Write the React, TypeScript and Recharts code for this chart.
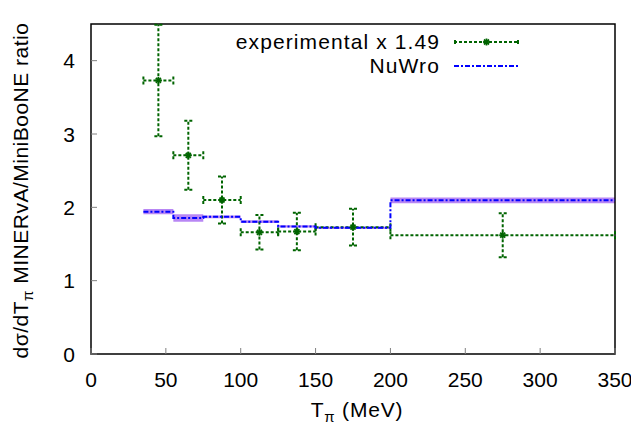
import React from 'react'
import {
  ComposedChart,
  XAxis,
  YAxis,
  Scatter,
  ErrorBar,
  Line,
  Area,
  ReferenceArea,
  Legend,
  Label,
} from 'recharts'

// bins in T_pi (MeV)
const binLow = [35, 55, 75, 100, 125, 150, 200]
const binHigh = [55, 75, 100, 125, 150, 200, 350]

// experimental ratio (already scaled x 1.49) and its error
const expRatio = [3.73, 2.71, 2.1, 1.66, 1.67, 1.73, 1.62]
const expError = [0.76, 0.47, 0.32, 0.235, 0.255, 0.25, 0.3]

// NuWro ratio and half-width of its band
const nuwroRatio = [1.94, 1.855, 1.87, 1.805, 1.74, 1.72, 2.095]
const nuwroSpread = [0.036, 0.05, 0.018, 0.018, 0.015, 0.015, 0.039]

const xTicks = [0, 50, 100, 150, 200, 250, 300, 350]
const yTicks = [0, 1, 2, 3, 4]

const GREEN = '#006400'
const BLUE = '#0000ff'
const BAND = '#ac72f2'
const TICK = '#808080'
const FONT = '"Liberation Sans", Arial, sans-serif'
const FS = 21

const expData = binLow.map((lo, i) => ({
  x: (lo + binHigh[i]) / 2,
  y: expRatio[i],
  xerr: (binHigh[i] - lo) / 2,
  yerr: expError[i],
}))

// step data: one point per bin edge, the last value repeated at the upper edge
const nuwroData = [...binLow, binHigh[binHigh.length - 1]].map((x, i) => {
  const k = Math.min(i, nuwroRatio.length - 1)
  return {
    x,
    ratio: nuwroRatio[k],
    band: [nuwroRatio[k] - nuwroSpread[k], nuwroRatio[k] + nuwroSpread[k]],
  }
})

const BottomTick = ({ x, y, payload }: any) => (
  <g>
    <line x1={x} x2={x} y1={y} y2={y - 6} stroke={TICK} strokeWidth={1} />
    <text x={x} y={y + 33} textAnchor="middle" fontSize={FS} fontFamily={FONT} fill="#000">
      {payload.value}
    </text>
  </g>
)

const TopTick = ({ x, y }: any) => (
  <line x1={x} x2={x} y1={y} y2={y + 6} stroke={TICK} strokeWidth={1} />
)

const LeftTick = ({ x, y, payload }: any) => (
  <g>
    <line x1={x} x2={x + 6} y1={y} y2={y} stroke={TICK} strokeWidth={1} />
    <text x={x - 16} y={y + 7.5} textAnchor="end" fontSize={FS} fontFamily={FONT} fill="#000">
      {payload.value}
    </text>
  </g>
)

const RightTick = ({ x, y }: any) => (
  <line x1={x} x2={x - 6} y1={y} y2={y} stroke={TICK} strokeWidth={1} />
)

const Star = ({ cx, cy }: any) => (
  <g stroke={GREEN} strokeWidth={1.8}>
    <line x1={cx - 3.5} x2={cx + 3.5} y1={cy} y2={cy} />
    <line x1={cx} x2={cx} y1={cy - 3.5} y2={cy + 3.5} />
    <line x1={cx - 2.5} x2={cx + 2.5} y1={cy - 2.5} y2={cy + 2.5} />
    <line x1={cx - 2.5} x2={cx + 2.5} y1={cy + 2.5} y2={cy - 2.5} />
  </g>
)

const XTitle = ({ viewBox }: any) => {
  const cx = viewBox.x + viewBox.width / 2 + 4
  return (
    <text
      x={cx}
      y={viewBox.y + 63}
      textAnchor="middle"
      fontSize={FS}
      fontFamily={FONT}
      letterSpacing={0.8}
      fill="#000"
    >
      T
      <tspan fontSize={15} dy={5}>π</tspan>
      <tspan dy={-5}> (MeV)</tspan>
    </text>
  )
}

const YTitle = () => (
  <text
    transform="rotate(-90)"
    x={-182.5}
    y={20}
    textAnchor="middle"
    fontSize={FS}
    fontFamily={FONT}
    letterSpacing={0.5}
    fill="#000"
  >
    dσ/dT
    <tspan fontSize={15} dy={5}>π</tspan>
    <tspan dy={-5}> MINERvA/MiniBooNE ratio</tspan>
  </text>
)

const renderLegend = () => (
  <div style={{ fontFamily: FONT, fontSize: FS, lineHeight: '24px', letterSpacing: 1.1 }}>
    <div style={{ display: 'flex', alignItems: 'center', height: 24 }}>
      <span style={{ width: 232, textAlign: 'right', whiteSpace: 'nowrap' }}>experimental x 1.49</span>
      <svg width={80} height={24} style={{ marginLeft: 14 }}>
        <line x1={0} x2={65} y1={12} y2={12} stroke={GREEN} strokeWidth={2} strokeDasharray="3 2" />
        <line x1={1} x2={1} y1={10} y2={14} stroke={GREEN} strokeWidth={2} />
        <line x1={64} x2={64} y1={10} y2={14} stroke={GREEN} strokeWidth={2} />
        <Star cx={32.5} cy={12} />
      </svg>
    </div>
    <div style={{ display: 'flex', alignItems: 'center', height: 24 }}>
      <span style={{ width: 232, textAlign: 'right' }}>NuWro</span>
      <svg width={80} height={24} style={{ marginLeft: 14 }}>
        <line x1={0} x2={65} y1={12} y2={12} stroke={BLUE} strokeWidth={2} strokeDasharray="5 2 2 2" />
      </svg>
    </div>
  </div>
)

export default function App() {
  return (
    <ComposedChart
      width={631}
      height={416}
      margin={{ top: 16, right: 24, left: 0, bottom: 0 }}
      style={{ background: '#fff' }}
    >
      <XAxis
        dataKey="x"
        type="number"
        domain={[0, 350]}
        ticks={xTicks}
        height={70}
        axisLine={false}
        tickLine={false}
        tickSize={0}
        tickMargin={0}
        tick={<BottomTick />}
        interval={0}
      >
        <Label content={<XTitle />} />
      </XAxis>
      <XAxis
        xAxisId="top"
        orientation="top"
        type="number"
        domain={[0, 350]}
        ticks={xTicks}
        height={0}
        axisLine={false}
        tickLine={false}
        tickSize={0}
        tickMargin={0}
        tick={<TopTick />}
        interval={0}
      />
      <YAxis
        type="number"
        domain={[0, 4.5]}
        ticks={yTicks}
        width={83}
        axisLine={false}
        tickLine={false}
        tickSize={0}
        tickMargin={0}
        tick={<LeftTick />}
        interval={0}
        allowDataOverflow
      >
        <Label content={<YTitle />} />
      </YAxis>
      <YAxis
        yAxisId="right"
        orientation="right"
        type="number"
        domain={[0, 4.5]}
        ticks={yTicks}
        width={0}
        axisLine={false}
        tickLine={false}
        tickSize={0}
        tickMargin={0}
        tick={<RightTick />}
        interval={0}
      />
      <Scatter data={expData} dataKey="y" shape={<Star />} isAnimationActive={false} legendType="none">
        <ErrorBar
          dataKey="xerr"
          direction="x"
          width={4}
          stroke={GREEN}
          strokeWidth={2}
          strokeDasharray="3 2"
          isAnimationActive={false}
        />
        <ErrorBar
          dataKey="yerr"
          direction="y"
          width={4}
          stroke={GREEN}
          strokeWidth={2}
          strokeDasharray="3 2"
          isAnimationActive={false}
        />
      </Scatter>
      <Area
        data={nuwroData}
        dataKey="band"
        type="stepAfter"
        stroke="none"
        fill={BAND}
        fillOpacity={0.85}
        isAnimationActive={false}
        legendType="none"
      />
      <Line
        data={nuwroData}
        dataKey="ratio"
        type="stepAfter"
        stroke={BLUE}
        strokeWidth={2}
        strokeDasharray="5 2 2 2"
        dot={false}
        activeDot={false}
        isAnimationActive={false}
        legendType="none"
      />
      <ReferenceArea
        x1={0}
        x2={350}
        y1={0}
        y2={4.5}
        fill="none"
        stroke="#000"
        strokeWidth={1.5}
        ifOverflow="visible"
      />
      <Legend
        content={renderLegend}
        layout="vertical"
        align="center"
        verticalAlign="middle"
        wrapperStyle={{ position: 'absolute', top: 22, left: 200, width: 330 }}
      />
    </ComposedChart>
  )
}
